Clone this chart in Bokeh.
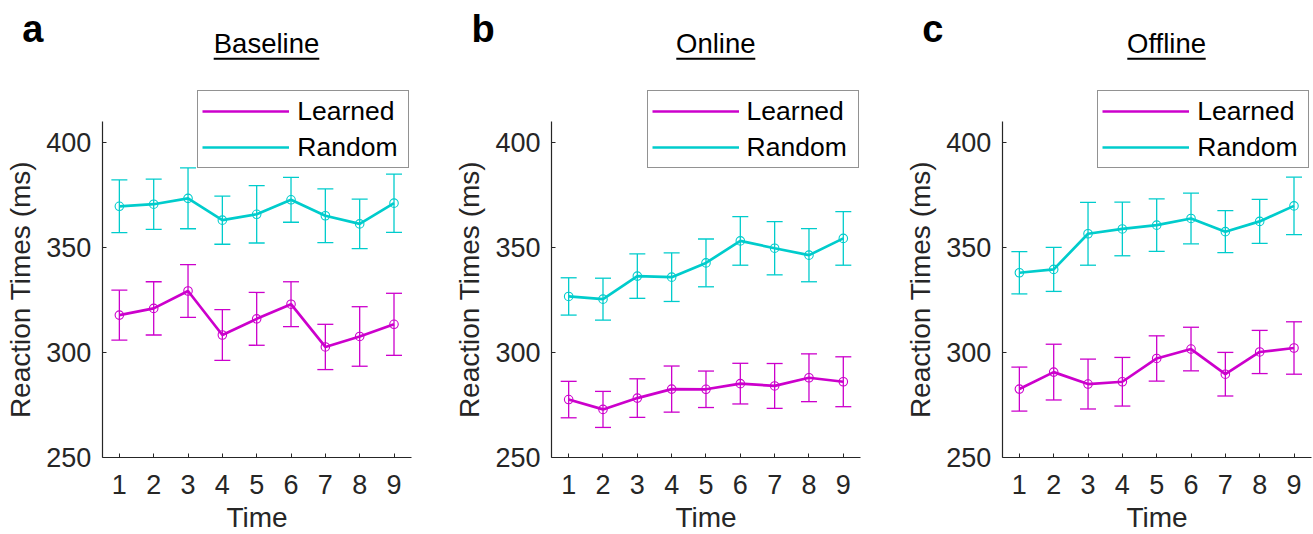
from bokeh.plotting import figure
from bokeh.models import (Range1d, FixedTicker, Legend, LegendItem, Label,
                          BoxAnnotation, Whisker, TeeHead, ColumnDataSource)
from bokeh.layouts import row
from bokeh.embed import file_html
from bokeh.resources import INLINE

# ---------------- data ----------------
times = [1, 2, 3, 4, 5, 6, 7, 8, 9]
y_ticks = [250, 300, 350, 400]

panel_letters = ["a", "b", "c"]
panel_titles = ["Baseline", "Online", "Offline"]
series_names = ["Learned", "Random"]

baseline_learned = [317.8, 321.0, 329.3, 308.3, 316.0, 323.0, 302.6, 307.6, 313.4]
baseline_learned_err = [11.9, 12.7, 12.6, 12.1, 12.6, 10.7, 10.8, 14.2, 14.8]
baseline_random = [369.7, 370.7, 373.5, 363.1, 365.9, 372.8, 365.2, 361.3, 371.2]
baseline_random_err = [12.6, 12.0, 14.5, 11.5, 13.7, 10.7, 12.8, 11.8, 13.9]

online_learned = [277.5, 272.8, 278.2, 282.5, 282.4, 285.1, 284.0, 287.9, 286.0]
online_learned_err = [8.7, 8.6, 9.2, 11.0, 8.7, 9.7, 10.7, 11.4, 11.9]
online_random = [326.7, 325.4, 336.4, 335.9, 342.7, 353.2, 349.7, 346.4, 354.4]
online_random_err = [8.9, 10.0, 10.6, 11.6, 11.4, 11.6, 12.7, 12.7, 12.8]

offline_learned = [282.5, 290.6, 284.9, 286.0, 297.1, 301.6, 289.6, 300.2, 302.1]
offline_learned_err = [10.5, 13.3, 11.9, 11.6, 10.8, 10.4, 10.4, 10.3, 12.5]
offline_random = [338.0, 339.6, 356.6, 358.9, 360.7, 363.9, 357.6, 362.5, 369.9]
offline_random_err = [10.1, 10.5, 15.0, 12.8, 12.5, 12.1, 10.0, 10.5, 13.7]

# axis extents
X_LO, X_HI = 0.5, 9.5
Y_LO, Y_HI = 250, 410

# ---------------- layout / style ----------------
FONT = "Liberation Sans"
MAGENTA = "#CC00CC"
CYAN = "#00CCCC"
AXIS_COLOR = "#262626"
FIG_H = 534
AXIS_Y_PX = 456.7          # x-axis line, px from top of the figure
XPX = 34.33                # px per time unit
YPX = 2.096                # px per ms

panel_widths = [450, 450, 413]
axis_x_px = [101.7, 101.0, 101.7]   # y-axis line, px from left of each figure
underline_half = [52.8, 39.5, 39.2]


def make_panel(i, learned, learned_err, random, random_err):
    width = panel_widths[i]
    ax = axis_x_px[i]
    x0 = X_LO - ax / XPX
    y0 = Y_LO - (FIG_H - AXIS_Y_PX) / YPX
    p = figure(width=width, height=FIG_H,
               x_range=Range1d(x0, x0 + width / XPX),
               y_range=Range1d(y0, y0 + FIG_H / YPX),
               output_backend="svg", toolbar_location=None, min_border=0)
    p.outline_line_color = None
    p.grid.visible = False
    p.background_fill_color = "white"
    p.border_fill_color = "white"

    renderers = []
    for vals, errs, col in ((learned, learned_err, MAGENTA),
                            (random, random_err, CYAN)):
        src = ColumnDataSource(dict(
            x=times, y=vals,
            upper=[v + e for v, e in zip(vals, errs)],
            lower=[v - e for v, e in zip(vals, errs)]))
        w = Whisker(base="x", upper="upper", lower="lower", source=src,
                    line_color=col, line_width=1.3,
                    upper_head=TeeHead(size=16, line_color=col, line_width=1.3),
                    lower_head=TeeHead(size=16, line_color=col, line_width=1.3))
        p.add_layout(w)
        ln = p.line("x", "y", source=src, line_color=col, line_width=2.7)
        p.scatter("x", "y", source=src, marker="circle", size=8.5,
                  fill_color=None, line_color=col, line_width=1.1)
        renderers.append(ln)

    # axes (drawn at fixed data locations, limited to the data extents)
    p.xaxis.fixed_location = Y_LO
    p.yaxis.fixed_location = X_LO
    p.xaxis.bounds = (X_LO, X_HI)
    p.yaxis.bounds = (Y_LO, Y_HI)
    p.xaxis.ticker = FixedTicker(ticks=times)
    p.yaxis.ticker = FixedTicker(ticks=y_ticks)
    p.xaxis.axis_label = "Time"
    p.yaxis.axis_label = "Reaction Times (ms)"
    for a in (p.xaxis, p.yaxis):
        a.major_label_text_font = FONT
        a.major_label_text_font_size = "27px"
        a.major_label_text_color = AXIS_COLOR
        a.axis_label_text_font = FONT
        a.axis_label_text_font_size = "28px"
        a.axis_label_text_font_style = "normal"
        a.axis_label_text_color = AXIS_COLOR
        a.axis_line_color = AXIS_COLOR
        a.axis_line_width = 1.2
        a.major_tick_line_color = AXIS_COLOR
        a.major_tick_line_width = 1
        a.major_tick_in = 4
        a.major_tick_out = 0
        a.minor_tick_line_color = None
    p.xaxis.major_label_standoff = 18
    p.xaxis.axis_label_standoff = 4
    p.yaxis.major_label_standoff = 11
    p.yaxis.axis_label_standoff = 7

    # legend
    legend = Legend(items=[LegendItem(label=series_names[0], renderers=[renderers[0]]),
                           LegendItem(label=series_names[1], renderers=[renderers[1]])],
                    location=(ax + 95.6, FIG_H - 168.3), padding=4, spacing=4, margin=0,
                    glyph_width=87, glyph_height=32, label_height=32,
                    label_standoff=8, label_width=107,
                    label_text_font=FONT, label_text_font_size="26.5px",
                    label_text_color="black",
                    border_line_color=AXIS_COLOR, border_line_width=1.2,
                    background_fill_color="white", background_fill_alpha=1.0)
    p.add_layout(legend)

    # panel letter
    p.add_layout(Label(x=ax - 80, y=FIG_H - 28.7, x_units="screen", y_units="screen",
                       text=panel_letters[i], text_font=FONT, text_font_size="38px",
                       text_font_style="bold", text_color="black",
                       text_align="left", text_baseline="alphabetic"))
    # underlined title
    cx = ax + 164.3
    p.add_layout(Label(x=cx, y=FIG_H - 43.3, x_units="screen", y_units="screen",
                       text=panel_titles[i], text_font=FONT, text_font_size="27.5px",
                       text_color="black", text_align="center",
                       text_baseline="alphabetic"))
    hw = underline_half[i]
    p.add_layout(BoxAnnotation(left=cx - hw, right=cx + hw,
                               bottom=FIG_H - 59.3, top=FIG_H - 57.3,
                               left_units="screen", right_units="screen",
                               bottom_units="screen", top_units="screen",
                               fill_color="black", fill_alpha=1.0,
                               line_color=None))
    return p


pa = make_panel(0, baseline_learned, baseline_learned_err, baseline_random, baseline_random_err)
pb = make_panel(1, online_learned, online_learned_err, online_random, online_random_err)
pc = make_panel(2, offline_learned, offline_learned_err, offline_random, offline_random_err)

layout = row(pa, pb, pc, spacing=0)
open("out.html", "w").write(file_html(layout, INLINE))
